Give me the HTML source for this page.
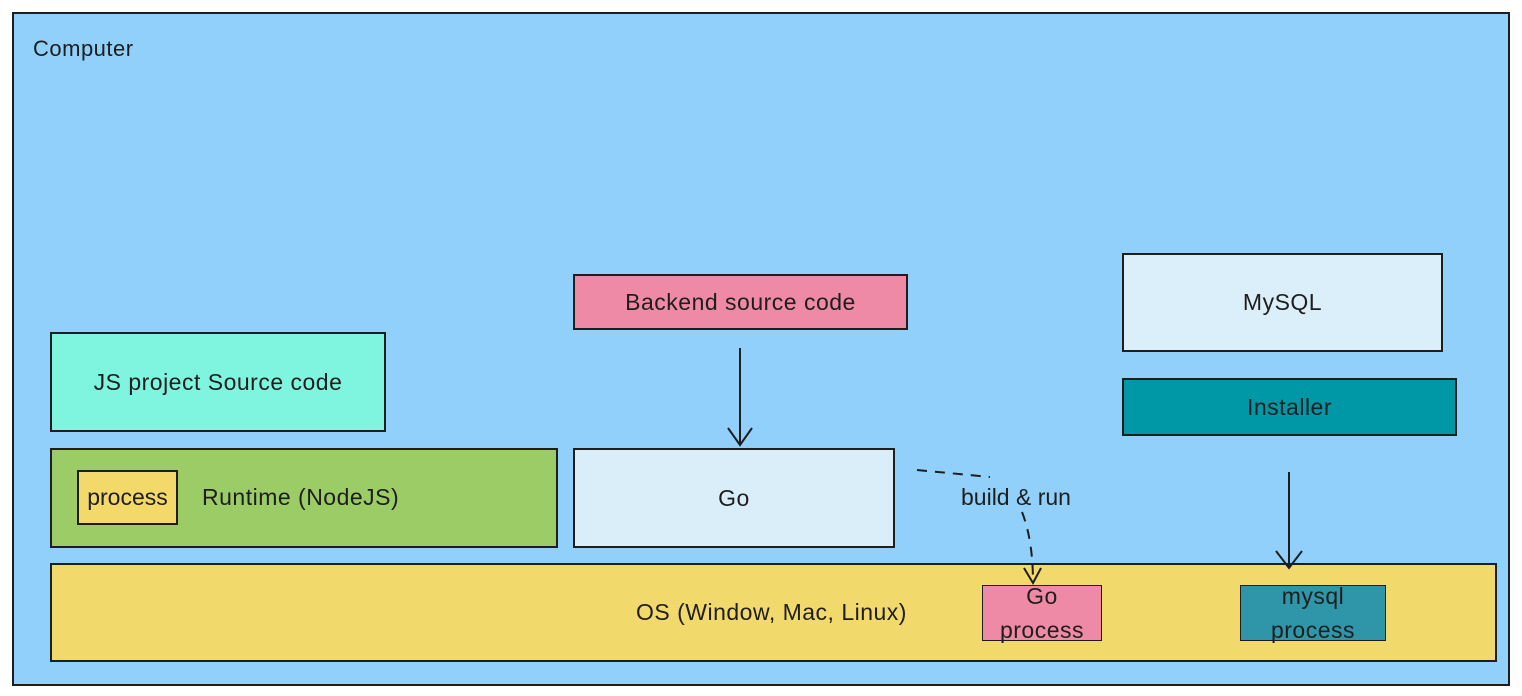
<!DOCTYPE html>
<html><head><meta charset="utf-8"><style>
body{margin:0;width:1522px;height:696px;background:#fff;overflow:hidden;font-family:"Liberation Sans",sans-serif}
.b{position:absolute;box-sizing:border-box;border:2px solid #1e1e1e;display:flex;align-items:center;justify-content:center;font-size:23px;letter-spacing:0.5px;color:#1e1e1e;text-align:center;line-height:1.5}
</style></head><body>
<div class="b" style="left:12px;top:12px;width:1498px;height:674px;background:#90d0fb"></div>
<div style="position:absolute;left:33px;top:36px;font-size:22px;letter-spacing:0.5px;color:#1e1e1e">Computer</div>
<div class="b" style="left:50px;top:332px;width:336px;height:100px;background:#7ff5e0">JS project Source code</div>
<div class="b" style="left:50px;top:448px;width:508px;height:100px;background:#9ccc65"></div>
<div class="b" style="left:77px;top:470px;width:101px;height:55px;background:#f3d96a;letter-spacing:0">process</div>
<div style="position:absolute;left:202px;top:484px;font-size:23px;letter-spacing:0.5px;color:#1e1e1e">Runtime (NodeJS)</div>
<div class="b" style="left:573px;top:274px;width:335px;height:56px;background:#ee8aa5">Backend source code</div>
<div class="b" style="left:573px;top:448px;width:322px;height:100px;background:#d9eef9">Go</div>
<div class="b" style="left:1122px;top:253px;width:321px;height:99px;background:#daeffa">MySQL</div>
<div class="b" style="left:1122px;top:378px;width:335px;height:58px;background:#0097a7">Installer</div>
<div class="b" style="left:50px;top:563px;width:1447px;height:99px;background:#f2d96b;justify-content:flex-start;padding-left:584px">OS (Window, Mac, Linux)</div>
<div class="b" style="left:982px;top:585px;width:120px;height:56px;background:#ee8aa5;border-width:1px;line-height:1.5">Go<br>process</div>
<div class="b" style="left:1240px;top:585px;width:146px;height:56px;background:#2e96a8;border-width:1px;line-height:1.5">mysql<br>process</div>
<div style="position:absolute;left:961px;top:484px;font-size:23px;color:#1e1e1e">build &amp; run</div>
<svg width="1522" height="696" style="position:absolute;left:0;top:0" fill="none" stroke="#1e1e1e" stroke-width="2">
<path d="M740 348 L740 445 M728 428 L740 445 L752 428"/>
<path d="M1289 472 L1289 568 M1276 551 L1289 568 L1302 551"/>
<path d="M917 470 L990 477 M1022 512 Q1033 540 1033 583" stroke-dasharray="10 8"/>
<path d="M1024 568 L1033 583 L1041 568"/>
</svg>
</body></html>
